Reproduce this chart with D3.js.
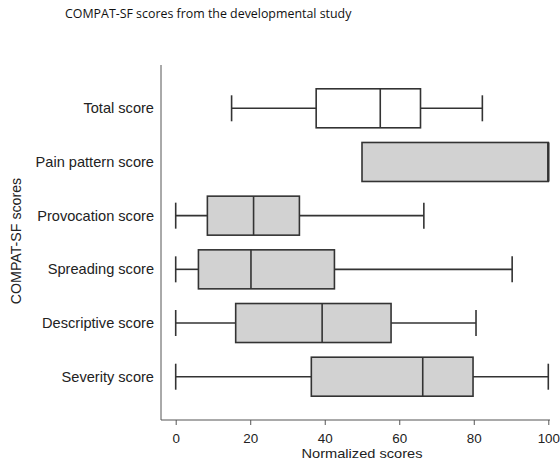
<!DOCTYPE html>
<html>
<head>
<meta charset="utf-8">
<script src="https://cdn.jsdelivr.net/npm/d3@7"></script>
<style>
  body { margin: 0; background: #fff; }
  svg { display: block; }
  .xAxis line { stroke: #555; }
  .xAxis text { fill: #222; font-family: 'Liberation Sans', Arial, sans-serif; font-size: 13.4px; }
</style>
</head>
<body>
<svg id="chart"></svg>
<script>
const categories = ['Total score', 'Pain pattern score', 'Provocation score', 'Spreading score', 'Descriptive score', 'Severity score']
const mins = [15, 50, 0, 0, 0, 0]
const q1s = [37.7, 50, 8.5, 6.1, 16.1, 36.4]
const medians = [54.9, 100, 20.9, 20.2, 39.3, 66.3]
const q3s = [65.7, 100, 33.2, 42.6, 57.8, 79.8]
const maxs = [82.3, 100, 66.6, 90.3, 80.6, 100]
const xTicks = [0, 20, 40, 60, 80, 100]

const width = 560
const height = 462
const labelFont = "'Liberation Sans', Arial, sans-serif"

const data = categories.map((cat, i) => ({
  cat, min: mins[i], q1: q1s[i], median: medians[i], q3: q3s[i], max: maxs[i]
}))

const root = d3.select('#chart')
  .attr('width', width)
  .attr('height', height)

const x = d3.scaleLinear()
  .domain([0, 100])
  .range([175.7, 548.3])

const y = d3.scalePoint()
  .domain(categories)
  .range([108.3, 376.7])

const boxHeight = 39
const capHeight = 26
const axisLeft = 161
const axisBottom = 420

// title
root.append('text')
  .attr('x', 65)
  .attr('y', 18)
  .attr('font-family', "'Open Sans', sans-serif")
  .attr('font-size', 12.4)
  .attr('fill', '#111')
  .text('COMPAT-SF scores from the developmental study')

// axes
root.append('line')
  .attr('x1', axisLeft).attr('x2', axisLeft)
  .attr('y1', 65).attr('y2', axisBottom)
  .attr('stroke', '#555')
  .attr('stroke-width', 1)

root.append('line')
  .attr('x1', axisLeft).attr('x2', 550)
  .attr('y1', axisBottom).attr('y2', axisBottom)
  .attr('stroke', '#555')
  .attr('stroke-width', 1)

root.append('g')
  .attr('class', 'xAxis')
  .attr('transform', `translate(0, ${axisBottom})`)
  .call(d3.axisBottom(x).tickValues(xTicks).tickSize(5).tickPadding(8))
  .call(g => g.select('.domain').remove())

// category labels
root.append('g')
  .selectAll('text')
  .data(categories)
  .enter().append('text')
  .attr('x', 154)
  .attr('y', d => y(d))
  .attr('dy', '0.35em')
  .attr('text-anchor', 'end')
  .attr('font-family', labelFont)
  .attr('font-size', 14.6)
  .attr('fill', '#222')
  .text(d => d)

// axis titles
root.append('text')
  .attr('x', 362)
  .attr('y', 458)
  .attr('text-anchor', 'middle')
  .attr('font-family', labelFont)
  .attr('font-size', 12.6)
  .attr('textLength', 121)
  .attr('lengthAdjust', 'spacingAndGlyphs')
  .attr('fill', '#222')
  .text('Normalized scores')

root.append('text')
  .attr('transform', 'translate(21, 241) rotate(-90)')
  .attr('text-anchor', 'middle')
  .attr('font-family', labelFont)
  .attr('font-size', 14.2)
  .attr('fill', '#222')
  .text('COMPAT-SF scores')

// boxes
const boxes = root.append('g')
  .selectAll('g')
  .data(data)
  .enter().append('g')
  .attr('class', 'box')

const stroke = '#333'
const sw = 1.6

boxes.filter(d => d.min < d.q1).append('line')
  .attr('x1', d => x(d.min)).attr('x2', d => x(d.q1))
  .attr('y1', d => y(d.cat)).attr('y2', d => y(d.cat))
  .attr('stroke', stroke).attr('stroke-width', sw)

boxes.filter(d => d.max > d.q3).append('line')
  .attr('x1', d => x(d.q3)).attr('x2', d => x(d.max))
  .attr('y1', d => y(d.cat)).attr('y2', d => y(d.cat))
  .attr('stroke', stroke).attr('stroke-width', sw)

boxes.filter(d => d.min < d.q1).append('line')
  .attr('x1', d => x(d.min)).attr('x2', d => x(d.min))
  .attr('y1', d => y(d.cat) - capHeight / 2).attr('y2', d => y(d.cat) + capHeight / 2)
  .attr('stroke', stroke).attr('stroke-width', sw)

boxes.filter(d => d.max > d.q3).append('line')
  .attr('x1', d => x(d.max)).attr('x2', d => x(d.max))
  .attr('y1', d => y(d.cat) - capHeight / 2).attr('y2', d => y(d.cat) + capHeight / 2)
  .attr('stroke', stroke).attr('stroke-width', sw)

boxes.append('rect')
  .attr('x', d => x(d.q1))
  .attr('width', d => x(d.q3) - x(d.q1))
  .attr('y', d => y(d.cat) - boxHeight / 2)
  .attr('height', boxHeight)
  .attr('fill', d => d.cat === 'Total score' ? '#fff' : '#d2d2d2')
  .attr('stroke', stroke)
  .attr('stroke-width', sw)

boxes.append('line')
  .attr('x1', d => x(d.median)).attr('x2', d => x(d.median))
  .attr('y1', d => y(d.cat) - boxHeight / 2).attr('y2', d => y(d.cat) + boxHeight / 2)
  .attr('stroke', stroke)
  .attr('stroke-width', d => d.median === d.q3 ? 2.4 : sw)
</script>
</body>
</html>
